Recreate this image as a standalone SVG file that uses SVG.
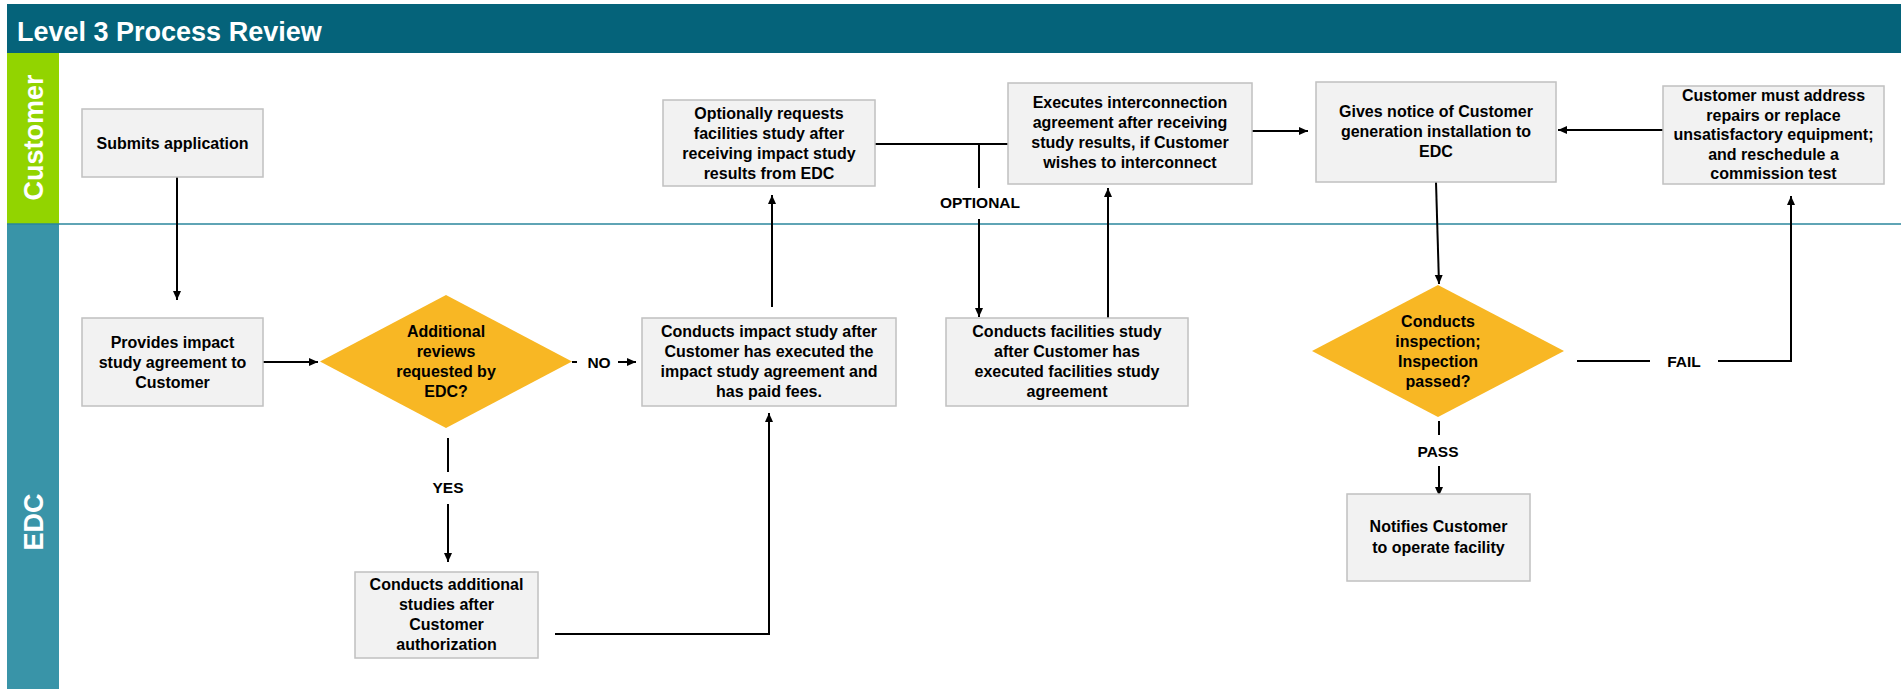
<svg xmlns="http://www.w3.org/2000/svg" width="1901" height="689" viewBox="0 0 1901 689">
<defs>
<marker id="ah" markerUnits="userSpaceOnUse" markerWidth="10" markerHeight="10" refX="9" refY="4" orient="auto">
<path d="M0,0 L9,4 L0,8 z" fill="#000"/>
</marker>
<style>
.box{fill:#F2F2F2;stroke:#C0C0C0;stroke-width:1.5}
.dia{fill:#F8B724;stroke:none}
.t{font-family:"Liberation Sans",Arial,sans-serif;font-weight:bold;font-size:16px;fill:#000;text-anchor:middle}
.lbl{font-family:"Liberation Sans",Arial,sans-serif;font-weight:bold;font-size:15.5px;fill:#000;text-anchor:middle}
.lane{font-family:"Liberation Sans",Arial,sans-serif;font-weight:bold;font-size:27px;fill:#FFF;text-anchor:middle}
.c{fill:none;stroke:#000;stroke-width:2}
.ca{fill:none;stroke:#000;stroke-width:2;marker-end:url(#ah)}
</style>
</defs>
<rect x="0" y="0" width="1901" height="689" fill="#FFF"/>
<g id="header">
<rect x="7" y="4" width="1894" height="49" fill="#05637A"/>
<text x="17" y="41" font-family="'Liberation Sans',Arial,sans-serif" font-weight="bold" font-size="27" fill="#FFF">Level 3 Process Review</text>
</g>
<g id="lanes">
<rect x="7" y="53" width="52" height="171" fill="#92D400"/>
<rect x="7" y="224" width="52" height="465" fill="#3994A8"/>
<line x1="7" y1="224" x2="1901" y2="224" stroke="#2A869C" stroke-width="1.5"/>
<text class="lane" transform="translate(43,137.5) rotate(-90)">Customer</text>
<text class="lane" transform="translate(43,522) rotate(-90)">EDC</text>
</g>
<g id="connectors">
<path class="ca" d="M177,177 V300"/>
<path class="ca" d="M262,362 H318"/>
<path class="c" d="M572,362 H577"/>
<text class="lbl" x="599" y="367.5">NO</text>
<path class="ca" d="M618,362 H636"/>
<path class="c" d="M448,438 V472"/>
<text class="lbl" x="448" y="493">YES</text>
<path class="ca" d="M448,504 V562"/>
<path class="ca" d="M555,634 H769 V413"/>
<path class="ca" d="M772,307 V195"/>
<path class="c" d="M875,144 H1008"/>
<path class="c" d="M979,144 V188"/>
<text class="lbl" x="980" y="208">OPTIONAL</text>
<path class="ca" d="M979,219 V317"/>
<path class="ca" d="M1108,318 V188"/>
<path class="ca" d="M1252,131 H1308"/>
<path class="ca" d="M1436,182 L1439,284"/>
<path class="ca" d="M1663,130 H1558"/>
<path class="c" d="M1577,361 H1650"/>
<text class="lbl" x="1684" y="366.5">FAIL</text>
<path class="ca" d="M1718,361 H1791 V196"/>
<path class="c" d="M1439,421 V435"/>
<text class="lbl" x="1438" y="456.5">PASS</text>
<path class="ca" d="M1439,466 V496"/>
</g>
<g id="n-submits">
<rect class="box" x="82" y="109" width="181" height="68"/>
<text class="t" x="172.5" y="149">Submits application</text>
</g>
<g id="n-provides">
<rect class="box" x="82" y="318" width="181" height="88"/>
<text class="t" x="172.5" y="348">Provides impact</text>
<text class="t" x="172.5" y="368">study agreement to</text>
<text class="t" x="172.5" y="388">Customer</text>
</g>
<g id="d-additional">
<polygon class="dia" points="320,361.5 446,295 572,361.5 446,428"/>
<text class="t" x="446" y="337">Additional</text>
<text class="t" x="446" y="357">reviews</text>
<text class="t" x="446" y="377">requested by</text>
<text class="t" x="446" y="397">EDC?</text>
</g>
<g id="n-additional">
<rect class="box" x="355" y="572" width="183" height="86"/>
<text class="t" x="446.5" y="590">Conducts additional</text>
<text class="t" x="446.5" y="610">studies after</text>
<text class="t" x="446.5" y="630">Customer</text>
<text class="t" x="446.5" y="650">authorization</text>
</g>
<g id="n-impact">
<rect class="box" x="642" y="318" width="254" height="88"/>
<text class="t" x="769" y="337">Conducts impact study after</text>
<text class="t" x="769" y="357">Customer has executed the</text>
<text class="t" x="769" y="377">impact study agreement and</text>
<text class="t" x="769" y="397">has paid fees.</text>
</g>
<g id="n-optionally">
<rect class="box" x="663" y="100" width="212" height="86"/>
<text class="t" x="769" y="119">Optionally requests</text>
<text class="t" x="769" y="139">facilities study after</text>
<text class="t" x="769" y="159">receiving impact study</text>
<text class="t" x="769" y="179">results from EDC</text>
</g>
<g id="n-executes">
<rect class="box" x="1008" y="83" width="244" height="101"/>
<text class="t" x="1130" y="108">Executes interconnection</text>
<text class="t" x="1130" y="128">agreement after receiving</text>
<text class="t" x="1130" y="148">study results, if Customer</text>
<text class="t" x="1130" y="168">wishes to interconnect</text>
</g>
<g id="n-facilities">
<rect class="box" x="946" y="318" width="242" height="88"/>
<text class="t" x="1067" y="337">Conducts facilities study</text>
<text class="t" x="1067" y="357">after Customer has</text>
<text class="t" x="1067" y="377">executed facilities study</text>
<text class="t" x="1067" y="397">agreement</text>
</g>
<g id="n-gives">
<rect class="box" x="1316" y="82" width="240" height="100"/>
<text class="t" x="1436" y="117">Gives notice of Customer</text>
<text class="t" x="1436" y="137">generation installation to</text>
<text class="t" x="1436" y="157">EDC</text>
</g>
<g id="n-repairs">
<rect class="box" x="1663" y="86" width="221" height="98"/>
<text class="t" x="1773.5" y="101">Customer must address</text>
<text class="t" x="1773.5" y="120.5">repairs or replace</text>
<text class="t" x="1773.5" y="140">unsatisfactory equipment;</text>
<text class="t" x="1773.5" y="159.5">and reschedule a</text>
<text class="t" x="1773.5" y="179">commission test</text>
</g>
<g id="d-inspection">
<polygon class="dia" points="1312,351 1438,285 1564,351 1438,417"/>
<text class="t" x="1438" y="327">Conducts</text>
<text class="t" x="1438" y="347">inspection;</text>
<text class="t" x="1438" y="367">Inspection</text>
<text class="t" x="1438" y="387">passed?</text>
</g>
<g id="n-notifies">
<rect class="box" x="1347" y="494" width="183" height="87"/>
<text class="t" x="1438.5" y="532">Notifies Customer</text>
<text class="t" x="1438.5" y="553">to operate facility</text>
</g>
</svg>
